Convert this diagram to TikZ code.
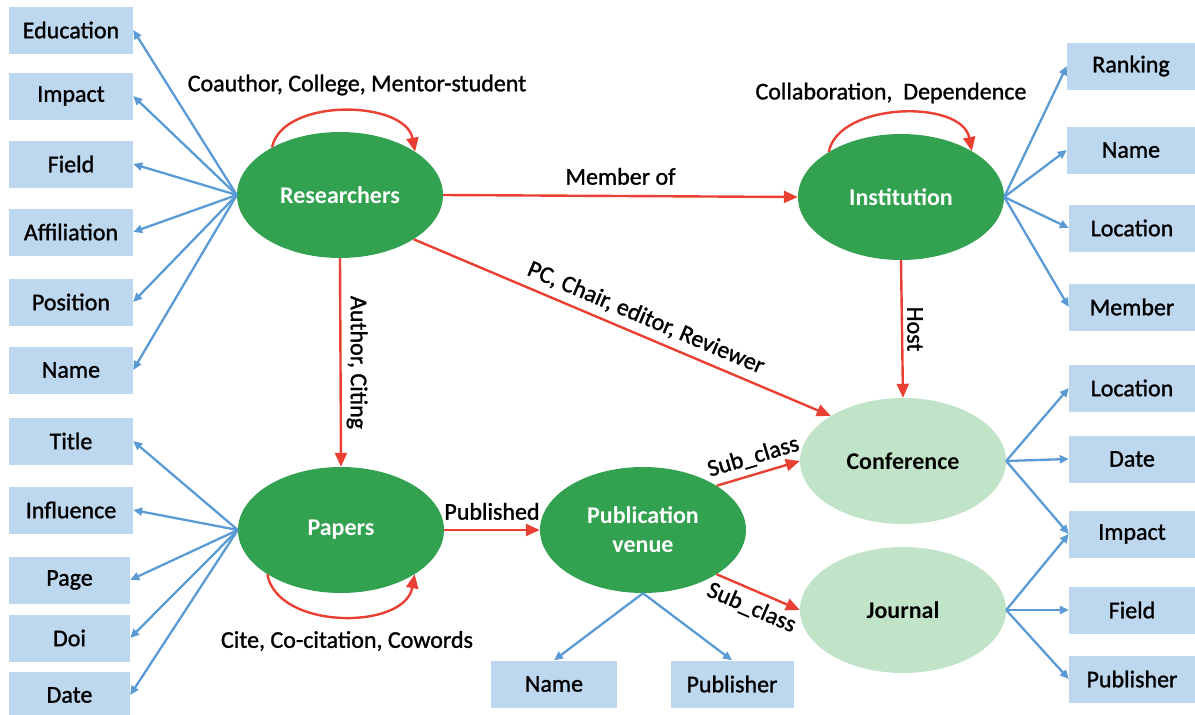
\documentclass[tikz,border=0pt]{standalone}
\usepackage{fontspec}
\setmainfont{Carlito}
\newfontfamily\lblfont{Carlito}[FakeBold=1.2]
\usetikzlibrary{arrows.meta,shapes.geometric}

\definecolor{entgreen}{RGB}{50,161,80}
\definecolor{palegreen}{RGB}{193,228,201}
\definecolor{boxblue}{RGB}{189,215,238}
\definecolor{attrblue}{RGB}{91,155,213}
\definecolor{relred}{RGB}{234,64,52}

\begin{document}
\begin{tikzpicture}[x=1pt,y=-1pt,
  every node/.style={font=\fontsize{24}{29}\selectfont\lblfont},
  attr/.style={rectangle, fill=boxblue, minimum width=124pt, minimum height=47pt, inner sep=0pt},
  entity/.style={ellipse, fill=entgreen, minimum width=206pt, minimum height=126pt,
    inner sep=0pt, text=white, align=center, font=\fontsize{24}{29}\selectfont\bfseries},
  subentity/.style={entity, fill=palegreen, text=black},
  relarrow/.style={draw=relred, line width=2.4pt, -{Triangle[length=14pt,width=12pt]}},
  attrarrow/.style={draw=attrblue, line width=2.3pt, -{Triangle[length=9pt,width=8pt]}},
  rellabel/.style={inner sep=2pt, text=black}]

\useasboundingbox (0,0) rectangle (1195,715);

% entities
\node[entity] (R) at (340,195) {Researchers};
\node[entity] (I) at (901,197) {Institution};
\node[entity] (P) at (341,530) {Papers};
\node[entity] (V) at (643,530) {Publication\\venue};
\node[subentity] (C) at (903,461) {Conference};
\node[subentity] (J) at (903,610) {Journal};

% researcher attributes
\node[attr] (edu)    at (71,30)  {Education};
\node[attr] (impR)   at (71,96)  {Impact};
\node[attr] (fieldR) at (71,164) {Field};
\node[attr] (affil)  at (71,232) {Affiliation};
\node[attr] (posn)   at (71,302) {Position};
\node[attr] (nameR)  at (71,370) {Name};

% paper attributes
\node[attr] (title)  at (71,441) {Title};
\node[attr] (influ)  at (71,510) {Influence};
\node[attr, minimum width=121pt] (page)  at (69.5,580) {Page};
\node[attr, minimum width=121pt] (doi)   at (69.5,638) {Doi};
\node[attr, minimum width=121pt] (dateP) at (69.5,695) {Date};

% institution attributes
\node[attr, minimum width=128pt] (rank)  at (1131,66)  {Ranking};
\node[attr, minimum width=128pt] (nameI) at (1131,150) {Name};
\node[attr, minimum width=126pt] (locI)  at (1132,228) {Location};
\node[attr, minimum width=126pt] (memb)  at (1132,307) {Member};

% conference / journal attributes
\node[attr, minimum width=126pt] (locC)   at (1132,388) {Location};
\node[attr, minimum width=126pt] (dateC)  at (1132,459) {Date};
\node[attr, minimum width=126pt] (impC)   at (1132,534) {Impact};
\node[attr, minimum width=126pt] (fieldJ) at (1132,610) {Field};
\node[attr, minimum width=126pt] (pubJ)   at (1132,679) {Publisher};

% venue attributes
\node[attr, minimum width=126pt] (nameV) at (554,684) {Name};
\node[attr, minimum width=123pt] (pubV)  at (732,684) {Publisher};

% attribute links
\foreach \t in {edu,impR,fieldR,affil,posn,nameR}
  \draw[attrarrow] (R.west) -- (\t.east);
\foreach \t in {title,influ,page,doi,dateP}
  \draw[attrarrow] (P.west) -- (\t.east);
\foreach \t in {rank,nameI,locI,memb}
  \draw[attrarrow] (I.east) -- (\t.west);
\foreach \t in {locC,dateC,impC}
  \draw[attrarrow] (C.east) -- (\t.west);
\foreach \t in {impC,fieldJ,pubJ}
  \draw[attrarrow] (J.east) -- (\t.west);
\draw[attrarrow] (V.south) -- (nameV.north);
\draw[attrarrow] (V.south) -- (pubV.north);

% relations
\draw[relarrow] (R.east) -- (I.west)
  node[midway, above, rellabel, inner sep=10pt] {Member of};
\draw[relarrow] (R.-31) -- (C.148)
  node[pos=0.54, above, sloped, rellabel, inner sep=7pt] {PC, Chair, editor, Reviewer};
\draw[relarrow] (R.south) -- (P.north)
  node[midway, anchor=south, rotate=-90, rellabel, inner sep=5pt] {Author, Citing};
\draw[relarrow] (I.south) -- (C.north)
  node[midway, anchor=south, rotate=-90, rellabel, inner sep=4pt] {Host};
\draw[relarrow] (P.east) -- (V.west)
  node[midway, above, rellabel, inner sep=9pt] {Published};
\draw[relarrow] (V.31) -- (C.west)
  node[midway, above, sloped, rellabel, inner sep=6pt] {Sub\_class};
\draw[relarrow] (V.-31) -- (J.west)
  node[midway, below, sloped, rellabel, inner sep=6pt] {Sub\_class};

% self relations
\draw[relarrow] (R.145) .. controls +(10,-50) and +(-10,-52) .. (R.30);
\draw[relarrow] (I.148) .. controls +(10,-50) and +(-10,-52) .. (I.33);
\draw[relarrow] (P.-149) .. controls +(10,56) and +(-10,56) .. (P.-31);
\node[rellabel] (lblR) at (357,85)  {Coauthor, College, Mentor-student};
\node[rellabel] (lblI) at (891,93)  {Collaboration,\ \ Dependence};
\node[rellabel] (lblP) at (347,641) {Cite, Co-citation, Cowords};
\end{tikzpicture}
\end{document}
